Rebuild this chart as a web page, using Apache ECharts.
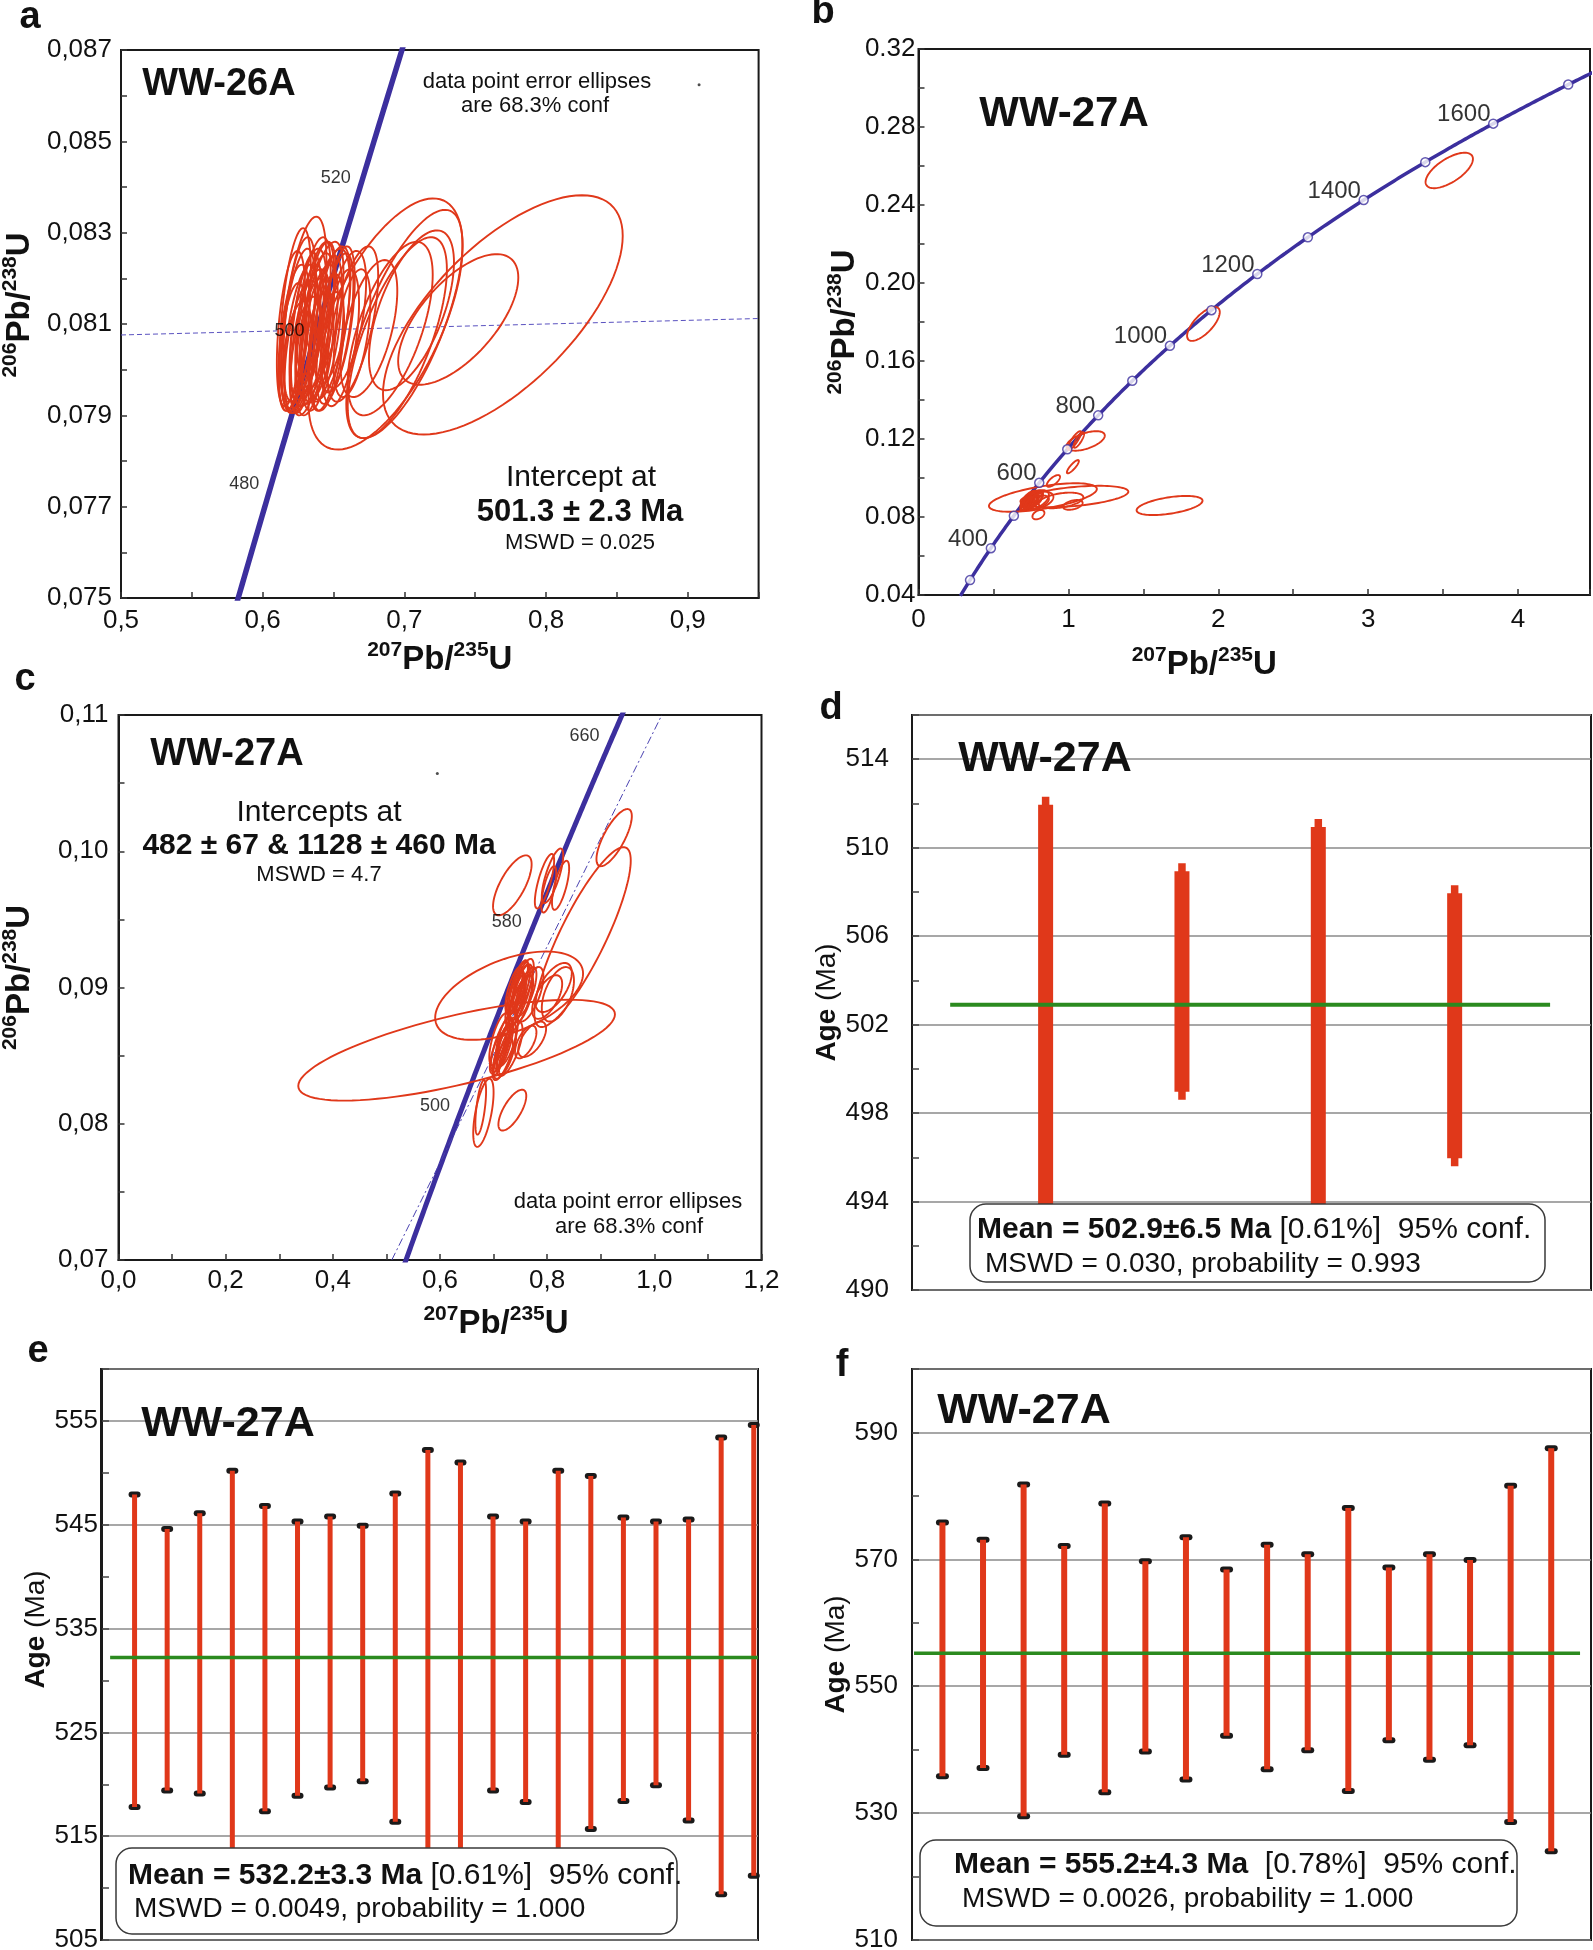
<!DOCTYPE html>
<html>
<head>
<meta charset="utf-8">
<script src="https://cdn.jsdelivr.net/npm/echarts@6/dist/echarts.min.js"></script>
<style>
  html, body { margin: 0; background: #fff; }
  #chart { width: 1593px; height: 1950px; }
</style>
</head>
<body>
<div id="chart"></div>
<script>
// decay constants (1/yr) that define the concordia curve
const L238 = 1.55125e-10;
const L235 = 9.8485e-10;

// error ellipses: [207Pb/235U, 206Pb/238U, half-width x, half-height y, correlation]
const ellipsesA = [
  [0.7695, 0.0812, 0.0846, 0.00262, 0.66],
  [0.6867, 0.0810, 0.0544, 0.00275, 0.62],
  [0.7380, 0.0811, 0.0424, 0.00143, 0.64],
  [0.7000, 0.0810, 0.0410, 0.00250, 0.70],
  [0.6950, 0.0807, 0.0350, 0.00220, 0.68],
  [0.7050, 0.0813, 0.0300, 0.00175, 0.60],
  [0.6900, 0.0809, 0.0300, 0.00190, 0.62],
  [0.6635, 0.0810, 0.0180, 0.00170, 0.62],
  [0.6750, 0.0809, 0.0200, 0.00150, 0.55],
  [0.629, 0.0812, 0.0160, 0.00215, 0.55],
  [0.622, 0.0807, 0.0110, 0.00160, 0.50],
  [0.625, 0.0809, 0.0120, 0.00175, 0.55],
  [0.628, 0.0805, 0.0125, 0.00145, 0.50],
  [0.632, 0.0810, 0.0130, 0.00165, 0.55],
  [0.634, 0.0807, 0.0140, 0.00150, 0.50],
  [0.637, 0.0811, 0.0135, 0.00170, 0.60],
  [0.640, 0.0808, 0.0130, 0.00150, 0.55],
  [0.642, 0.0812, 0.0150, 0.00160, 0.60],
  [0.626, 0.0811, 0.0115, 0.00180, 0.50],
  [0.631, 0.0803, 0.0115, 0.00130, 0.45],
  [0.645, 0.0806, 0.0120, 0.00150, 0.50],
  [0.647, 0.0810, 0.0145, 0.00165, 0.55],
  [0.636, 0.0814, 0.0120, 0.00150, 0.55],
  [0.651, 0.0809, 0.0130, 0.00165, 0.60],
  [0.655, 0.0807, 0.0130, 0.00150, 0.50],
  [0.641, 0.0816, 0.0105, 0.00120, 0.50],
  [0.624, 0.0803, 0.0105, 0.00120, 0.45],
  [0.658, 0.0811, 0.0150, 0.00150, 0.55],
  [0.663, 0.0808, 0.0130, 0.00140, 0.50],
  [0.633, 0.0809, 0.0100, 0.00140, 0.50],
  [0.639, 0.0804, 0.0110, 0.00130, 0.50],
  [0.620, 0.0809, 0.0100, 0.00170, 0.45],
  [0.623, 0.0812, 0.0110, 0.00190, 0.50],
  [0.627, 0.0807, 0.0120, 0.00160, 0.55],
  [0.630, 0.0808, 0.0110, 0.00175, 0.55],
  [0.635, 0.0805, 0.0120, 0.00150, 0.50],
  [0.638, 0.0809, 0.0125, 0.00165, 0.55],
  [0.644, 0.0809, 0.0120, 0.00160, 0.55],
  [0.649, 0.0812, 0.0130, 0.00150, 0.55],
  [0.653, 0.0811, 0.0120, 0.00160, 0.55],
  [0.621, 0.0805, 0.0095, 0.00140, 0.45],
  [0.646, 0.0804, 0.0115, 0.00130, 0.50]
];
const concordiaRangeA = [460, 545];
const ageLabelsA = [480, 500, 520];
const regressionA = [[0.5, 0.08076], [0.95, 0.08112]];
const strayDotA = [[0.908, 0.08624]];

const ellipsesB = [
  [3.541, 0.2577, 0.158, 0.0091, 0.65],
  [1.901, 0.1790, 0.109, 0.0087, 0.70],
  [1.115, 0.1190, 0.128, 0.0050, 0.55],
  [1.040, 0.1192, 0.045, 0.0048, 0.85],
  [1.070, 0.1195, 0.035, 0.0040, 0.80],
  [1.030, 0.1058, 0.040, 0.0034, 0.85],
  [0.830, 0.0900, 0.360, 0.0073, 0.60],
  [1.040, 0.0905, 0.360, 0.0055, 0.45],
  [1.675, 0.0859, 0.220, 0.0049, 0.50],
  [0.900, 0.0985, 0.044, 0.0030, 0.70],
  [0.800, 0.0812, 0.040, 0.0024, 0.40],
  [1.030, 0.0862, 0.065, 0.0025, 0.40],
  [0.740, 0.0885, 0.060, 0.0050, 0.60],
  [0.760, 0.0890, 0.070, 0.0045, 0.50],
  [0.750, 0.0875, 0.050, 0.0040, 0.60],
  [0.780, 0.0888, 0.090, 0.0050, 0.50],
  [0.730, 0.0880, 0.045, 0.0045, 0.70],
  [0.800, 0.0885, 0.100, 0.0045, 0.40],
  [0.770, 0.0895, 0.060, 0.0040, 0.60],
  [0.720, 0.0870, 0.040, 0.0040, 0.70],
  [0.790, 0.0875, 0.080, 0.0035, 0.50],
  [0.950, 0.0885, 0.150, 0.0040, 0.40],
  [0.760, 0.0880, 0.030, 0.0035, 0.70],
  [0.745, 0.0890, 0.035, 0.0038, 0.70],
  [0.735, 0.0885, 0.030, 0.0030, 0.75],
  [0.755, 0.0880, 0.035, 0.0032, 0.70],
  [0.765, 0.0885, 0.040, 0.0030, 0.65],
  [0.725, 0.0878, 0.025, 0.0030, 0.75],
  [0.745, 0.0872, 0.030, 0.0028, 0.70],
  [0.775, 0.0880, 0.045, 0.0028, 0.60],
  [0.750, 0.0893, 0.030, 0.0030, 0.70],
  [0.740, 0.0880, 0.020, 0.0025, 0.75],
  [0.785, 0.0890, 0.040, 0.0030, 0.60],
  [0.730, 0.0868, 0.022, 0.0025, 0.75]
];
const concordiaRangeB = [250, 1740];
const markerAgesB = [300, 400, 500, 600, 700, 800, 900, 1000, 1100, 1200, 1300, 1400, 1500, 1600, 1700];
const labelAgesB = [400, 600, 800, 1000, 1200, 1400, 1600];

const ellipsesC = [
  [0.631, 0.0854, 0.2955, 0.00370, 0.71],
  [0.729, 0.0894, 0.1380, 0.00324, 0.50],
  [0.866, 0.0937, 0.0900, 0.00660, 0.85],
  [0.925, 0.1010, 0.0330, 0.00210, 0.75],
  [0.735, 0.0975, 0.0360, 0.00220, 0.70],
  [0.795, 0.0978, 0.0180, 0.00200, 0.75],
  [0.810, 0.0982, 0.0200, 0.00200, 0.75],
  [0.825, 0.0975, 0.0160, 0.00180, 0.70],
  [0.803, 0.0972, 0.0140, 0.00170, 0.70],
  [0.681, 0.0808, 0.0190, 0.00250, 0.60],
  [0.676, 0.0812, 0.0100, 0.00200, 0.60],
  [0.735, 0.0810, 0.0260, 0.00150, 0.70],
  [0.812, 0.0900, 0.0340, 0.00180, 0.60],
  [0.800, 0.0893, 0.0280, 0.00160, 0.60],
  [0.820, 0.0895, 0.0300, 0.00200, 0.50],
  [0.772, 0.0862, 0.0260, 0.00130, 0.60],
  [0.760, 0.0860, 0.0200, 0.00120, 0.60],
  [0.745, 0.0900, 0.020, 0.0020, 0.75],
  [0.750, 0.0895, 0.022, 0.0022, 0.75],
  [0.740, 0.0892, 0.018, 0.0020, 0.70],
  [0.755, 0.0902, 0.020, 0.0019, 0.70],
  [0.748, 0.0888, 0.024, 0.0021, 0.75],
  [0.760, 0.0897, 0.020, 0.0018, 0.70],
  [0.738, 0.0898, 0.016, 0.0017, 0.70],
  [0.768, 0.0895, 0.025, 0.0020, 0.65],
  [0.742, 0.0897, 0.014, 0.0016, 0.75],
  [0.752, 0.0899, 0.016, 0.0018, 0.75],
  [0.746, 0.0893, 0.015, 0.0017, 0.75],
  [0.750, 0.0904, 0.014, 0.0015, 0.70],
  [0.744, 0.0887, 0.016, 0.0016, 0.75],
  [0.757, 0.0892, 0.017, 0.0017, 0.70],
  [0.715, 0.0858, 0.020, 0.0020, 0.75],
  [0.720, 0.0853, 0.022, 0.0021, 0.75],
  [0.710, 0.0862, 0.018, 0.0019, 0.70],
  [0.725, 0.0860, 0.020, 0.0018, 0.70],
  [0.718, 0.0848, 0.018, 0.0015, 0.70],
  [0.730, 0.0855, 0.024, 0.0020, 0.70],
  [0.708, 0.0852, 0.015, 0.0015, 0.70],
  [0.716, 0.0856, 0.014, 0.0016, 0.75],
  [0.722, 0.0859, 0.015, 0.0017, 0.75],
  [0.712, 0.0851, 0.013, 0.0015, 0.75],
  [0.726, 0.0852, 0.016, 0.0016, 0.75],
  [0.719, 0.0864, 0.014, 0.0015, 0.75]
];
const concordiaRangeC = [430, 680];
const ageLabelsC = [500, 580, 660];
const discordiaC = [[0.510, 0.07], [1.014, 0.11]];
const strayDotC = [[0.595, 0.1057]];

// weighted-mean plots: [analysis no., lower age, upper age] in Ma
const agesD = [[1, 493.4, 512.3], [2, 498.6, 509.3], [3, 493.0, 511.3], [4, 495.6, 508.3]];
const meanD = 502.9;
const meanSpanD = [0.3, 4.7];

const agesE = [
  [1, 517.8, 547.9], [2, 519.4, 544.6], [3, 519.1, 546.1], [4, 512.5, 550.2],
  [5, 517.4, 546.8], [6, 518.9, 545.3], [7, 519.7, 545.8], [8, 520.3, 544.9],
  [9, 516.4, 548.0], [10, 511.5, 552.2], [11, 512.4, 551.0], [12, 519.4, 545.8],
  [13, 518.3, 545.3], [14, 512.6, 550.2], [15, 515.7, 549.7], [16, 518.4, 545.7],
  [17, 519.9, 545.3], [18, 516.5, 545.5], [19, 509.4, 553.4], [20, 511.2, 554.6]
];
const meanE = 532.2;
const meanSpanE = [0.25, 20.13];

const agesF = [
  [1, 535.8, 575.8], [2, 537.1, 573.1], [3, 529.5, 581.8], [4, 539.2, 572.1],
  [5, 533.3, 578.8], [6, 539.7, 569.7], [7, 535.3, 573.5], [8, 542.2, 568.4],
  [9, 536.9, 572.3], [10, 539.9, 570.8], [11, 533.5, 578.1], [12, 541.5, 568.7],
  [13, 538.4, 570.8], [14, 540.7, 569.9], [15, 528.6, 581.6], [16, 524.0, 587.5]
];
const meanF = 555.2;
const meanSpanF = [0.3, 16.71];

const RED = '#e0381a';
const BLUE = '#3c2f9e';
const GREEN = '#2b8a1f';
const INK = '#111';
const FONT = 'Liberation Sans';

function concordiaPoint(ma) {
  return [Math.expm1(L235 * ma * 1e6), Math.expm1(L238 * ma * 1e6)];
}
function concordiaLine(range) {
  const pts = [];
  for (let t = range[0]; t <= range[1]; t += 1) pts.push(concordiaPoint(t));
  return pts;
}

const chart = echarts.init(document.getElementById('chart'), null, { renderer: 'canvas' });

// fixed pixel boxes; outerBoundsMode 'none' keeps ECharts 6 from shrinking them
const gridBox = { show: true, borderColor: '#1a1a1a', borderWidth: 2, backgroundColor: '#fff', containLabel: false, outerBoundsMode: 'none' };
const grids = [
  { left: 121, top: 50, width: 637.6, height: 548 },
  { left: 918.5, top: 49, width: 671.5, height: 546 },
  { left: 118.5, top: 715, width: 643, height: 545 },
  { left: 912, top: 715, width: 679, height: 575 },
  { left: 101, top: 1369, width: 657, height: 571 },
  { left: 912, top: 1369, width: 679, height: 571 }
].map(g => ({ ...gridBox, ...g }));

const ratioRich = {
  b: { fontSize: 33, fontWeight: 'bold', fontFamily: FONT, color: INK, lineHeight: 40 },
  s: { fontSize: 21, fontWeight: 'bold', fontFamily: FONT, color: INK, lineHeight: 21, verticalAlign: 'top' }
};
const ageRich = {
  b: { fontSize: 28, fontWeight: 'bold', fontFamily: FONT, color: INK },
  r: { fontSize: 28, fontFamily: FONT, color: INK }
};

function ratioAxis(gi, min, max, interval, fmt, extra) {
  return Object.assign({
    gridIndex: gi, type: 'value', min, max, interval,
    axisLine: { show: true, lineStyle: { color: '#1a1a1a', width: 2 } },
    axisTick: { show: true, inside: true, length: 6, lineStyle: { color: '#333', width: 1.5 } },
    minorTick: { show: true, splitNumber: 2, length: 6, lineStyle: { color: '#333', width: 1.5 } },
    splitLine: { show: false },
    axisLabel: { fontSize: 26, fontFamily: FONT, color: INK, formatter: fmt, showMaxLabel: false },
    nameLocation: 'middle'
  }, extra);
}
const comma = d => v => v.toFixed(d).replace('.', ',');

function ageAxis(gi, min, max, interval, extra) {
  return Object.assign({
    gridIndex: gi, type: 'value', min, max, interval,
    axisLine: { show: true, lineStyle: { color: '#1a1a1a', width: 2 } },
    axisTick: { show: true, inside: true, length: 7, lineStyle: { color: '#444', width: 1.5 } },
    minorTick: { show: true, splitNumber: 2, length: 7, lineStyle: { color: '#444', width: 1.5 } },
    splitLine: { show: true, lineStyle: { color: '#8a8a8a', width: 1.5 } },
    axisLabel: { fontSize: 26, fontFamily: FONT, color: INK, showMaxLabel: false },
    name: '{b|Age }{r|(Ma)}',
    nameLocation: 'middle', nameRotate: 90,
    nameTextStyle: { rich: ageRich }
  }, extra);
}

const xAxes = [
  ratioAxis(0, 0.5, 0.95, 0.1, comma(1), {
    axisLabel: { fontSize: 26, fontFamily: FONT, color: INK, formatter: comma(1), showMaxLabel: false, margin: 10 },
    name: '{s|207}{b|Pb/}{s|235}{b|U}', nameGap: 42, nameTextStyle: { rich: ratioRich }
  }),
  ratioAxis(1, 0, 4.48, 1, v => String(Math.round(v)), {
    axisLabel: { fontSize: 26, fontFamily: FONT, color: INK, formatter: v => String(Math.round(v)), showMaxLabel: false, margin: 12 },
    name: '{s|207}{b|Pb/}{s|235}{b|U}', nameGap: 50, nameTextStyle: { rich: ratioRich, padding: [0, 100, 0, 0] }
  }),
  ratioAxis(2, 0, 1.2, 0.2, comma(1), {
    axisLabel: { fontSize: 26, fontFamily: FONT, color: INK, formatter: comma(1), showMaxLabel: true, margin: 8 },
    name: '{s|207}{b|Pb/}{s|235}{b|U}', nameGap: 44, nameTextStyle: { rich: ratioRich, padding: [0, 0, 0, 112] }
  }),
  { gridIndex: 3, type: 'value', min: 0.02, max: 5, show: false },
  { gridIndex: 4, type: 'value', min: -0.03, max: 20.13, show: false },
  { gridIndex: 5, type: 'value', min: 0.25, max: 16.98, show: false }
];

const yAxes = [
  ratioAxis(0, 0.075, 0.087, 0.002, comma(3), {
    axisLabel: { fontSize: 26, fontFamily: FONT, color: INK, formatter: comma(3), showMaxLabel: true, margin: 9 },
    name: '{s|206}{b|Pb/}{s|238}{b|U}', nameRotate: 90, nameGap: 81,
    nameTextStyle: { rich: ratioRich, padding: [0, 0, 0, 38] }
  }),
  ratioAxis(1, 0.04, 0.32, 0.04, v => v.toFixed(2), {
    axisLabel: { fontSize: 26, fontFamily: FONT, color: INK, formatter: v => v.toFixed(2), showMaxLabel: true, margin: 3 },
    name: '{s|206}{b|Pb/}{s|238}{b|U}', nameRotate: 90, nameGap: 52,
    nameTextStyle: { rich: ratioRich }
  }),
  ratioAxis(2, 0.07, 0.11, 0.01, comma(2), {
    axisLabel: { fontSize: 26, fontFamily: FONT, color: INK, formatter: comma(2), showMaxLabel: true, margin: 10 },
    name: '{s|206}{b|Pb/}{s|238}{b|U}', nameRotate: 90, nameGap: 78.5,
    nameTextStyle: { rich: ratioRich, padding: [0, 0, 0, 20] }
  }),
  ageAxis(3, 490, 516, 4, { nameGap: 69, axisLabel: { fontSize: 26, fontFamily: FONT, color: INK, showMaxLabel: false, margin: 23 } }),
  ageAxis(4, 505, 560, 10, { nameGap: 49, axisLabel: { fontSize: 26, fontFamily: FONT, color: INK, showMaxLabel: false, margin: 3 },
    nameTextStyle: { rich: ageRich, padding: [0, 0, 0, 50] } }),
  ageAxis(5, 510, 600, 20, { nameGap: 60, axisLabel: { fontSize: 26, fontFamily: FONT, color: INK, showMaxLabel: false, margin: 14 } })
];

function ellipseSeries(gi, data) {
  return {
    type: 'custom', xAxisIndex: gi, yAxisIndex: gi, z: 3, clip: true,
    encode: { x: 0, y: 1 }, data,
    renderItem(params, api) {
      const cx = api.value(0), cy = api.value(1), sx = api.value(2), sy = api.value(3), r = api.value(4);
      const q = Math.sqrt(1 - r * r);
      const pts = [];
      for (let k = 0; k < 96; k++) {
        const a = k / 96 * 2 * Math.PI;
        pts.push(api.coord([cx + sx * Math.cos(a), cy + sy * (r * Math.cos(a) + q * Math.sin(a))]));
      }
      return { type: 'polygon', shape: { points: pts }, style: { fill: 'none', stroke: RED, lineWidth: 1.9 } };
    }
  };
}

function concordiaSeries(gi, range, width) {
  return {
    type: 'line', xAxisIndex: gi, yAxisIndex: gi, z: 2, symbol: 'none', clip: true, silent: true,
    data: concordiaLine(range), lineStyle: { color: BLUE, width }
  };
}

function ageLabelSeries(gi, ages) {
  return {
    type: 'scatter', xAxisIndex: gi, yAxisIndex: gi, z: 5, symbolSize: 1, silent: true,
    itemStyle: { color: 'rgba(0,0,0,0)' },
    data: ages.map(t => [...concordiaPoint(t), t]),
    label: { show: true, position: 'left', distance: 9, offset: [0, -9], formatter: p => String(p.value[2]),
      fontSize: 18, fontFamily: FONT, color: '#000' }
  };
}

function dotSeries(gi, data) {
  return { type: 'scatter', xAxisIndex: gi, yAxisIndex: gi, z: 5, symbolSize: 3, silent: true, itemStyle: { color: '#222' }, data };
}

function meanSeries(gi, mean, span, width) {
  return {
    type: 'line', xAxisIndex: gi, yAxisIndex: gi, z: 4, symbol: 'none', silent: true,
    data: [[span[0], mean], [span[1], mean]], lineStyle: { color: GREEN, width }
  };
}

function thickBarSeries(gi, data) {
  return {
    type: 'custom', xAxisIndex: gi, yAxisIndex: gi, z: 3, encode: { x: 0, y: [1, 2] }, data,
    renderItem(params, api) {
      const x = api.value(0);
      const top = api.coord([x, api.value(2)]);
      const bot = api.coord([x, api.value(1)]);
      const tip = 8, wide = 15, thin = 7.5;
      return { type: 'group', children: [
        { type: 'rect', shape: { x: top[0] - thin / 2, y: top[1], width: thin, height: bot[1] - top[1] }, style: { fill: RED } },
        { type: 'rect', shape: { x: top[0] - wide / 2, y: top[1] + tip, width: wide, height: bot[1] - top[1] - 2 * tip }, style: { fill: RED } }
      ] };
    }
  };
}

function cappedBarSeries(gi, data, width, capW) {
  return {
    type: 'custom', xAxisIndex: gi, yAxisIndex: gi, z: 3, encode: { x: 0, y: [1, 2] }, data,
    renderItem(params, api) {
      const x = api.value(0);
      const top = api.coord([x, api.value(2)]);
      const bot = api.coord([x, api.value(1)]);
      const capH = 6;
      return { type: 'group', children: [
        { type: 'rect', shape: { x: top[0] - capW / 2, y: top[1] - capH / 2, width: capW, height: capH, r: 3 }, style: { fill: '#1a1a1a' } },
        { type: 'rect', shape: { x: bot[0] - capW / 2, y: bot[1] - capH / 2, width: capW, height: capH, r: 3 }, style: { fill: '#1a1a1a' } },
        { type: 'rect', shape: { x: top[0] - width / 2, y: top[1], width, height: bot[1] - top[1] }, style: { fill: RED } }
      ] };
    }
  };
}

const series = [
  // a
  concordiaSeries(0, concordiaRangeA, 5.5),
  { type: 'line', xAxisIndex: 0, yAxisIndex: 0, z: 2, symbol: 'none', silent: true, data: regressionA,
    lineStyle: { color: '#5a52c0', width: 1, type: [5, 3] } },
  ellipseSeries(0, ellipsesA),
  ageLabelSeries(0, ageLabelsA),
  dotSeries(0, strayDotA),
  // b
  concordiaSeries(1, concordiaRangeB, 3.5),
  ellipseSeries(1, ellipsesB),
  { type: 'scatter', xAxisIndex: 1, yAxisIndex: 1, z: 5, symbol: 'circle', symbolSize: 9, silent: true,
    itemStyle: { color: '#fff', borderColor: BLUE, borderWidth: 1.5 },
    data: markerAgesB.map(t => [...concordiaPoint(t), t]),
    label: { show: true, position: 'left', distance: 0, offset: [2.5, -9],
      formatter: p => labelAgesB.includes(p.value[2]) ? String(p.value[2]) : '',
      fontSize: 24, fontFamily: FONT, color: '#000' } },
  // c
  concordiaSeries(2, concordiaRangeC, 5),
  { type: 'line', xAxisIndex: 2, yAxisIndex: 2, z: 2, symbol: 'none', silent: true, data: discordiaC,
    lineStyle: { color: '#4a42b0', width: 1, type: [8, 3, 2, 3] } },
  ellipseSeries(2, ellipsesC),
  ageLabelSeries(2, ageLabelsC),
  dotSeries(2, strayDotC),
  // d, e, f
  thickBarSeries(3, agesD),
  meanSeries(3, meanD, meanSpanD, 4),
  cappedBarSeries(4, agesE, 5, 12),
  meanSeries(4, meanE, meanSpanE, 3.5),
  cappedBarSeries(5, agesF, 6, 13),
  meanSeries(5, meanF, meanSpanF, 3.5)
];

function txt(x, y, text, size, bold) {
  return { type: 'text', x, y, z: 100,
    style: { text, fill: INK, font: (bold ? 'bold ' : '') + size + 'px "' + FONT + '"', align: 'center', verticalAlign: 'middle' } };
}
function meanBox(x, y, w, h, line1Bold, line1Rest, line2, l1x, l1y, l2x, l2y) {
  return [
    { type: 'rect', z: 100, shape: { x, y, width: w, height: h, r: 16 }, style: { fill: '#fff', stroke: '#3a3a3a', lineWidth: 1.5 } },
    { type: 'text', x: l1x, y: l1y, z: 101, style: {
      text: '{b|' + line1Bold + '}{r|' + line1Rest + '}', align: 'left', verticalAlign: 'middle',
      rich: { b: { fontSize: 30, fontWeight: 'bold', fontFamily: FONT, fill: INK }, r: { fontSize: 30, fontFamily: FONT, fill: INK } } } },
    { type: 'text', x: l2x, y: l2y, z: 101, style: {
      text: line2, fill: INK, font: '28px "' + FONT + '"', align: 'left', verticalAlign: 'middle' } }
  ];
}

const graphic = [
  txt(30, 18, 'a', 38, true), txt(823, 13, 'b', 38, true), txt(25, 680, 'c', 38, true),
  txt(831, 709, 'd', 38, true), txt(38, 1352, 'e', 38, true), txt(842, 1366, 'f', 38, true),
  // a
  txt(219, 85, 'WW-26A', 38, true),
  txt(537, 82, 'data point error ellipses', 22, false),
  txt(535, 106, 'are 68.3% conf', 22, false),
  txt(581, 478, 'Intercept at', 30, false),
  txt(580, 512, '501.3 ± 2.3 Ma', 31, true),
  txt(580, 543, 'MSWD = 0.025', 22, false),
  // b
  txt(1064, 114, 'WW-27A', 42, true),
  // c
  txt(227, 755, 'WW-27A', 38, true),
  txt(319, 813, 'Intercepts at', 30, false),
  txt(319, 846, '482 ± 67 & 1128 ± 460 Ma', 30, true),
  txt(319, 875, 'MSWD = 4.7', 22, false),
  txt(628, 1202, 'data point error ellipses', 22, false),
  txt(629, 1227, 'are 68.3% conf', 22, false),
  // d, e, f
  txt(1045, 759, 'WW-27A', 43, true),
  txt(228, 1424, 'WW-27A', 43, true),
  txt(1024, 1411, 'WW-27A', 43, true),
  ...meanBox(970, 1204, 575, 78, 'Mean = 502.9±6.5 Ma', ' [0.61%]  95% conf.', 'MSWD = 0.030, probability = 0.993', 977, 1230, 985, 1264),
  ...meanBox(116, 1848, 561, 86, 'Mean = 532.2±3.3 Ma', ' [0.61%]  95% conf.', 'MSWD = 0.0049, probability = 1.000', 128, 1876, 134, 1909),
  ...meanBox(920, 1840, 597, 86, 'Mean = 555.2±4.3 Ma', '  [0.78%]  95% conf.', 'MSWD = 0.0026, probability = 1.000', 954, 1865, 962, 1899)
];

chart.setOption({
  backgroundColor: '#fff',
  animation: false,
  grid: grids,
  xAxis: xAxes,
  yAxis: yAxes,
  series,
  graphic
});
</script>
</body>
</html>
